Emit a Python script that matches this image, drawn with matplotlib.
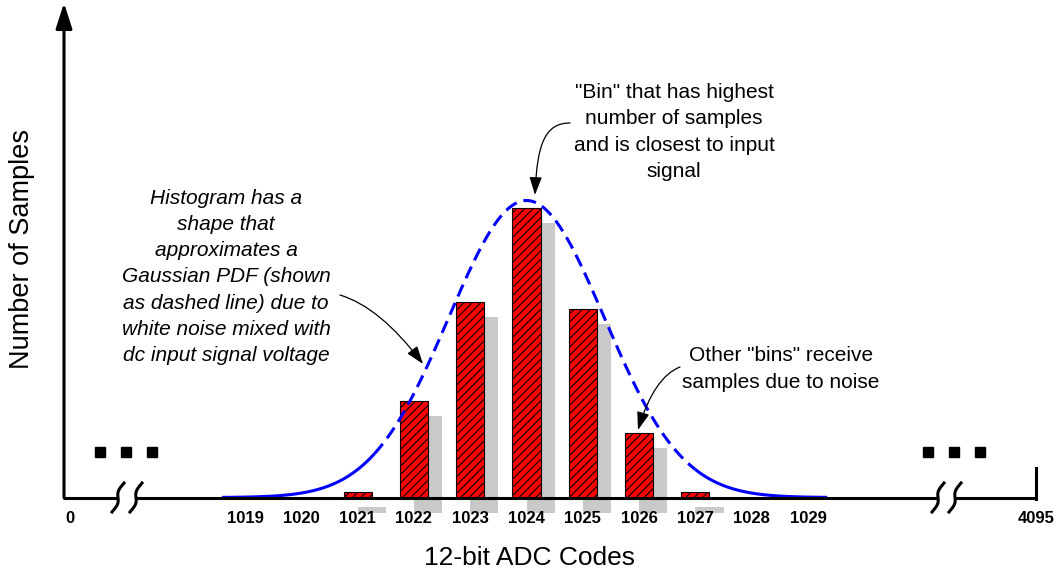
import matplotlib
matplotlib.use('Agg')
import matplotlib.pyplot as plt
import numpy as np
from matplotlib.patches import FancyArrowPatch
from matplotlib.path import Path

plt.rcParams['font.family'] = ['Liberation Sans', 'DejaVu Sans']
plt.rcParams['hatch.linewidth'] = 0.8

# ---------------- data ----------------
bin_codes = [1021, 1022, 1023, 1024, 1025, 1026, 1027]
bin_counts = [6, 97, 196, 290, 189, 65, 6]
axis_codes = [1019, 1020, 1021, 1022, 1023, 1024, 1025, 1026, 1027, 1028, 1029]
end_labels = ['0', '4095']
pdf_mean, pdf_sigma, pdf_peak = 1024.0, 1.38, 297.0
pdf_range = (1018.59, 1029.34)
dash_range = (1021.3, 1027.0)

# ---------------- layout (pixels) ----------------
W, H = 1062, 575
X_LEFT, X_RIGHT, Y_BASE, Y_TOP = 64, 1036, 497.5, 3
REF_CODE, REF_PX, PX_PER_CODE = 1019, 245, 56.3


def cx(px):
    return REF_CODE + (px - REF_PX) / PX_PER_CODE


def cy(py):
    return Y_BASE - py


fig = plt.figure(figsize=(W / 100, H / 100), dpi=100)
ax = fig.add_axes([X_LEFT / W, 1 - Y_BASE / H, (X_RIGHT - X_LEFT) / W, (Y_BASE - Y_TOP) / H])
ax.set_xlim(cx(X_LEFT), cx(X_RIGHT))
ax.set_ylim(0, Y_BASE - Y_TOP)
for s in ax.spines.values():
    s.set_visible(False)
ax.set_yticks([])

# ticks
tick_pos = [cx(70)] + axis_codes + [cx(X_RIGHT)]
tick_lab = [end_labels[0]] + [str(c) for c in axis_codes] + [end_labels[1]]
ax.set_xticks(tick_pos)
ax.set_xticklabels(tick_lab, fontsize=12, fontweight='bold')
ax.tick_params(axis='x', length=0, pad=9.5)

BAR_W = 0.5
SH_DX, SH_DY = 0.25, 15

# shadows
sh = ax.bar(np.array(bin_codes) + SH_DX, bin_counts, width=BAR_W, bottom=-SH_DY,
            color='#c9c9c9', linewidth=0, zorder=1)
for p in sh:
    p.set_clip_on(False)

# bars
bars = ax.bar(bin_codes, bin_counts, width=BAR_W, color='#ff0000', edgecolor='black',
              linewidth=0.8, hatch='////', zorder=3)

# gaussian pdf
def pdf(x):
    return pdf_peak * np.exp(-(x - pdf_mean) ** 2 / (2 * pdf_sigma ** 2))

xl = np.linspace(pdf_range[0], dash_range[0], 80)
xm = np.linspace(dash_range[0], dash_range[1], 300)
xr = np.linspace(dash_range[1], pdf_range[1], 80)
ax.plot(xl, pdf(xl), color='#0000ff', lw=2.2, zorder=4, solid_capstyle='butt')
ax.plot(xr, pdf(xr), color='#0000ff', lw=2.2, zorder=4, solid_capstyle='butt')
ax.plot(xm, pdf(xm), color='#0000ff', lw=2.2, zorder=4, linestyle=(0, (4.2, 2.3)),
        dash_capstyle='butt')

# axes lines
AX_LW = 2.2
ax.annotate('', xy=(0, 1), xytext=(0, 0), xycoords='axes fraction',
            arrowprops=dict(arrowstyle='-|>,head_length=15.5,head_width=5', mutation_scale=1,
                            lw=AX_LW, color='black', shrinkA=0, shrinkB=0))
seg = [(X_LEFT - 1, 118), (136, 938), (955, X_RIGHT)]
for a, b in seg:
    ax.plot([cx(a), cx(b)], [0, 0], color='black', lw=AX_LW, zorder=5, clip_on=False,
            solid_capstyle='butt')
ax.plot([cx(X_RIGHT), cx(X_RIGHT)], [-1, cy(468)], color='black', lw=AX_LW, zorder=5,
        clip_on=False, solid_capstyle='projecting')

# squiggle breaks
t = np.linspace(0, 1, 60)
for xc in (118, 136, 938, 955):
    px = xc + 6 * np.cos(np.pi * t) - 3.5 * np.sin(2 * np.pi * t)
    py = 483 + 29 * t
    ax.plot(cx(px), cy(py), color='black', lw=AX_LW, zorder=5, clip_on=False)

# ellipsis dots
for xs in ((100, 126, 152), (928, 954, 980)):
    ax.plot([cx(v) for v in xs], [cy(452)] * 3, linestyle='none', marker='s',
            markersize=7.2, color='black', clip_on=False)

# labels
fig.text(530 / W, 1 - 558 / H, '12-bit ADC Codes', fontsize=19, ha='center', va='center')
fig.text(22 / W, 1 - 249 / H, 'Number of Samples', fontsize=19.5, ha='center', va='center',
         rotation=90)

# annotations
LS = 1.47
ax.text(cx(674), cy(132), '"Bin" that has highest\nnumber of samples\nand is closest to input\nsignal',
        fontsize=15, ha='center', va='center', linespacing=LS)
ax.text(cx(226), cy(277), 'Histogram has a\nshape that\napproximates a\nGaussian PDF (shown\n'
        'as dashed line) due to\nwhite noise mixed with\ndc input signal voltage',
        fontsize=15, ha='center', va='center', style='italic', linespacing=LS)
ax.text(cx(781), cy(369), 'Other "bins" receive\nsamples due to noise',
        fontsize=15, ha='center', va='center', linespacing=LS)


def curved_arrow(pts):
    verts = [(cx(x), cy(y)) for x, y in pts]
    codes = [Path.MOVETO] + [Path.CURVE4] * 3 if len(pts) == 4 else [Path.MOVETO, Path.CURVE3, Path.CURVE3]
    arr = FancyArrowPatch(path=Path(verts, codes),
                          arrowstyle='-|>,head_length=11,head_width=3.8', mutation_scale=1,
                          lw=0.9, color='black', zorder=6)
    arr.set_clip_on(False)
    ax.add_patch(arr)


curved_arrow([(570, 123), (546, 123), (537, 142), (535, 195)])
curved_arrow([(340, 295), (380, 307), (423, 364)])
curved_arrow([(680, 367), (654, 377), (638, 430)])

fig.savefig('out.png', dpi=100)
